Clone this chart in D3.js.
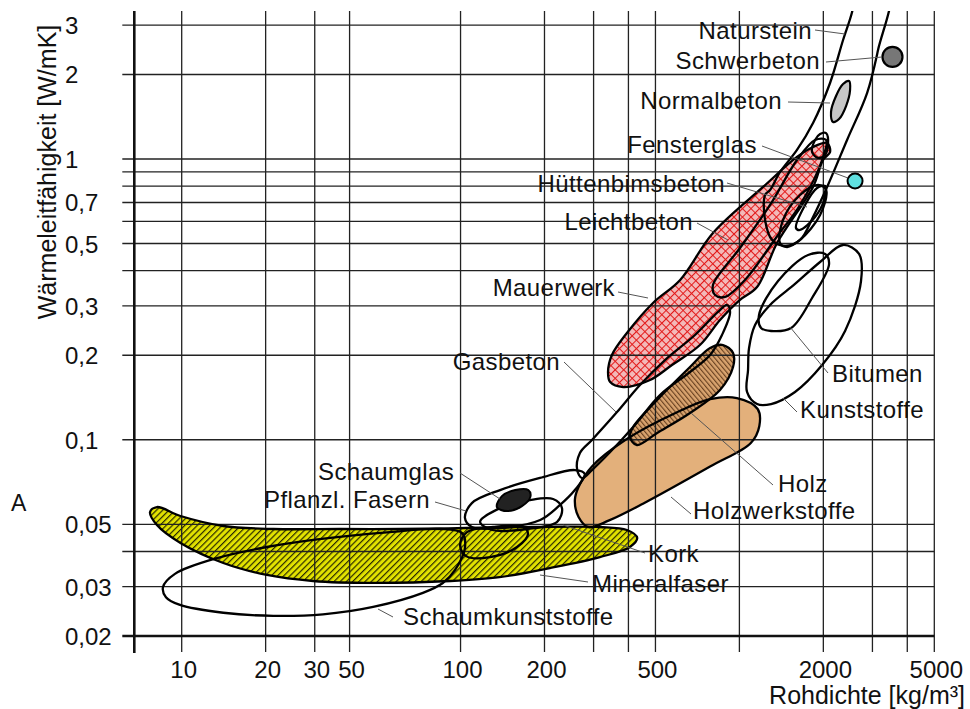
<!DOCTYPE html>
<html>
<head>
<meta charset="utf-8">
<script src="https://cdn.jsdelivr.net/npm/d3@7"></script>
<style>
body { margin: 0; background: #fff; }
text { font-family: "Liberation Sans", Arial, sans-serif; fill: #111; }
</style>
</head>
<body>
<div id="chart-area"></div>
<script>
// Rohdichte [kg/m3] vs. Wärmeleitfähigkeit [W/mK], outlines
var xGrid = [10, 20, 30, 40, 100, 200, 300, 400, 500, 1000, 2000, 3000, 4000, 5000];
var xLabelVals = [10, 20, 30, 40, 100, 200, 500, 2000, 5000];
var xLabelText = ["10", "20", "30", "50", "100", "200", "500", "2000", "5000"];
var yGrid = [0.03, 0.04, 0.05, 0.1, 0.2, 0.3, 0.4, 0.5, 0.6, 0.7, 0.8, 0.9, 1, 2, 3];
var yLabelVals = [0.02, 0.03, 0.05, 0.1, 0.2, 0.3, 0.5, 0.7, 1, 2, 3];
var yLabelText = ["0,02", "0,03", "0,05", "0,1", "0,2", "0,3", "0,5", "0,7", "1", "2", "3"];

// [density, lambda]
var mineralfaser = [[7.7,0.0553],[8.15,0.0576],[9.9,0.0535],[14.1,0.0493],[21.3,0.0481],[37,0.0481],[61,0.0481],[105,0.0485],[182,0.0489],[316,0.0489],[395,0.0477],[430,0.0447],[405,0.0415],[316,0.0382],[209,0.0349],[138,0.0324],[92,0.0314],[48.6,0.0309],[29.6,0.0314],[20.2,0.033],[14.1,0.0364],[9.9,0.0429],[8.15,0.0497]];
var schaumkunststoffe = [[8.57,0.0299],[9.46,0.0333],[13.4,0.0379],[20.2,0.0415],[29.6,0.044],[55.8,0.0469],[84.3,0.0481],[101.3,0.0465],[103.7,0.0412],[95.6,0.0344],[86.4,0.0309],[73.3,0.0285],[48.6,0.0254],[32.1,0.0239],[21.3,0.0236],[14.1,0.0242],[9.86,0.0258],[8.78,0.0275]];
var korkInnen = [[99.6,0.0422],[105.5,0.0469],[130.8,0.0489],[167.5,0.0489],[174.6,0.0462],[159.4,0.0415],[127.6,0.0382],[104.7,0.0385]];
var kork = [[117.5,0.051],[138.6,0.0571],[177.5,0.061],[214.7,0.0615],[231,0.0571],[222,0.051],[173,0.0481],[130,0.0477]];
var pflanzlFasern = [[103.7,0.0527],[109.8,0.0595],[138.6,0.0662],[192.7,0.0731],[257,0.078],[279,0.0755],[257,0.0662],[227,0.0585],[193,0.0518],[138.6,0.0485],[109.8,0.0489]];
var schaumglas = [[135,0.0576],[141,0.0631],[157,0.0662],[175,0.0662],[178,0.0626],[166,0.058],[147,0.0557]];
var gasbeton = [[262,0.078],[268,0.0897],[296,0.0998],[364,0.1255],[440,0.1566],[541,0.1923],[693,0.2361],[838,0.2852],[903,0.302],[926,0.285],[866,0.2361],[785,0.2004],[665,0.1743],[519,0.1443],[422,0.1129],[344,0.0904],[296,0.078],[273,0.073]];
var holzwerkstoffe = [[257,0.061],[265,0.0679],[296,0.0803],[392,0.1002],[595,0.1251],[785,0.1396],[980,0.1408],[1163,0.1287],[1179,0.112],[1099,0.0974],[785,0.0803],[451,0.0592],[341,0.0516],[288,0.0488],[265,0.0531]];
var holz = [[405,0.1023],[416,0.111],[507,0.1385],[665,0.1816],[785,0.2122],[874,0.2175],[949,0.2037],[949,0.1816],[852,0.1504],[665,0.1245],[507,0.1057],[429,0.0958]];
var mauerwerk = [[338,0.1743],[349,0.2004],[395,0.24],[490,0.307],[613,0.371],[804,0.545],[1216,0.795],[1609,1.017],[1837,1.104],[2063,1.141],[2114,1.059],[1996,0.992],[1837,0.795],[1365,0.502],[1157,0.35],[1005,0.315],[852,0.267],[722,0.2175],[573,0.1846],[478,0.1632],[383,0.1541],[344,0.1605]];
var kunststoffe = [[1157,0.134],[1065,0.148],[1074,0.1772],[1083,0.2122],[1138,0.2564],[1288,0.3021],[1583,0.3588],[1947,0.4297],[2354,0.494],[2686,0.4589],[2730,0.3677],[2393,0.244],[1980,0.1846],[1583,0.148],[1299,0.134]];
var bitumen = [[1196,0.2501],[1176,0.2782],[1376,0.3677],[1763,0.4551],[2029,0.4589],[2097,0.4227],[1822,0.3199],[1532,0.2501],[1299,0.244]];
var naturstein = [[2621,4.0],[2536,3.339],[2354,2.653],[2114,1.865],[1837,1.343],[1609,1.077],[1399,0.899],[1288,0.7755],[1236,0.7443],[1236,0.6064],[1310,0.5147],[1458,0.4901],[1650,0.5147],[1837,0.6215],[2063,0.7948],[2433,1.169],[2870,1.718],[3142,2.444],[3441,4.0]];
var leichtbeton = [[818,0.3278],[804,0.3558],[1005,0.482],[1288,0.6858],[1609,0.9918],[1868,1.169],[2046,1.169],[1980,0.9918],[1650,0.6858],[1376,0.5362],[1047,0.3707],[888,0.3225]];
var huettenbims = [[1596,0.568],[1720,0.6858],[1899,0.7884],[2029,0.8015],[2012,0.7145],[1868,0.6215],[1650,0.5587]];
var leichtInnen = [[1399,0.5022],[1434,0.6064],[1650,0.7443],[1915,0.808],[2046,0.7755],[1947,0.6317],[1650,0.5147],[1482,0.486]];
var fensterSchleife = [[1822,1.059],[1868,1.169],[1947,1.227],[2046,1.237],[2079,1.122],[2029,1.034],[1915,1.009]];
var normalbeton = [[2167,1.355],[2131,1.47],[2221,1.677],[2354,1.849],[2474,1.895],[2494,1.761],[2413,1.544],[2277,1.388]];
var schwerbeton = [3540, 2.31];
var fensterglas = [2599, 0.835];

var width = 970, height = 709;
var svg = d3.select("#chart-area").append("svg")
    .attr("width", width)
    .attr("height", height);

var x = d3.scaleLog().domain([10, 5000]).range([181.7, 934.3]);
var y = d3.scaleLog().domain([0.02, 1]).range([636, 159]);

var plotLeft = 134.3, plotRight = 934.3, plotTop = 11, plotBottom = 636;

var defs = svg.append("defs");
defs.append("clipPath").attr("id", "plot")
    .append("rect").attr("x", plotLeft).attr("y", plotTop)
    .attr("width", plotRight - plotLeft).attr("height", plotBottom - plotTop);

// patterns
var pYellow = defs.append("pattern").attr("id", "yellow")
    .attr("patternUnits", "userSpaceOnUse").attr("width", 4.4).attr("height", 10)
    .attr("patternTransform", "rotate(45)");
pYellow.append("rect").attr("width", 4.4).attr("height", 10).attr("fill", "#e2e200");
pYellow.append("line").attr("x1", 0.6).attr("x2", 0.6).attr("y1", 0).attr("y2", 10)
    .attr("stroke", "#2a2a00").attr("stroke-width", 1.2);

var pRed = defs.append("pattern").attr("id", "red")
    .attr("patternUnits", "userSpaceOnUse").attr("width", 6).attr("height", 6)
    .attr("patternTransform", "rotate(45)");
pRed.append("rect").attr("width", 6).attr("height", 6).attr("fill", "#f3b9b9");
pRed.append("path").attr("d", "M0,0.5H6M0.5,0V6")
    .attr("stroke", "#e31b1b").attr("stroke-width", 1.1);

var pHolz = defs.append("pattern").attr("id", "holz")
    .attr("patternUnits", "userSpaceOnUse").attr("width", 3.6).attr("height", 10)
    .attr("patternTransform", "rotate(-40)");
pHolz.append("rect").attr("width", 3.6).attr("height", 10).attr("fill", "#d9a36e");
pHolz.append("line").attr("x1", 0.6).attr("x2", 0.6).attr("y1", 0).attr("y2", 10)
    .attr("stroke", "#5b3517").attr("stroke-width", 1);

var blob = d3.line()
    .x(function (d) { return x(d[0]); })
    .y(function (d) { return y(d[1]); })
    .curve(d3.curveCatmullRomClosed.alpha(0.5));

var fillLayer = svg.append("g").attr("clip-path", "url(#plot)");
var gridLayer = svg.append("g");
var lineLayer = svg.append("g").attr("clip-path", "url(#plot)");
var solidLayer = svg.append("g").attr("clip-path", "url(#plot)");

var filled = [
    { d: mineralfaser, fill: "url(#yellow)" },
    { d: holzwerkstoffe, fill: "#e3b07b" },
    { d: holz, fill: "url(#holz)" },
    { d: mauerwerk, fill: "url(#red)" }
];
filled.forEach(function (s) {
    fillLayer.append("path").attr("d", blob(s.d)).attr("fill", s.fill);
});

// grid
xGrid.forEach(function (v) {
    gridLayer.append("line")
        .attr("x1", x(v)).attr("x2", x(v))
        .attr("y1", plotTop).attr("y2", plotBottom + 16)
        .attr("stroke", "#222").attr("stroke-width", 1.3);
});
yGrid.forEach(function (v) {
    gridLayer.append("line")
        .attr("x1", plotLeft - 12).attr("x2", plotRight)
        .attr("y1", y(v)).attr("y2", y(v))
        .attr("stroke", "#222").attr("stroke-width", 1.3);
});
// axes
gridLayer.append("line")
    .attr("x1", plotLeft).attr("x2", plotLeft).attr("y1", plotTop).attr("y2", plotBottom + 17)
    .attr("stroke", "#111").attr("stroke-width", 2.6);
gridLayer.append("line")
    .attr("x1", plotLeft - 12).attr("x2", plotRight).attr("y1", plotBottom).attr("y2", plotBottom)
    .attr("stroke", "#111").attr("stroke-width", 2.6);

var outlines = [schaumkunststoffe, korkInnen, kork, pflanzlFasern, gasbeton, kunststoffe, bitumen,
    naturstein, leichtbeton, huettenbims, leichtInnen, fensterSchleife,
    mineralfaser, holzwerkstoffe, holz, mauerwerk];
outlines.forEach(function (d) {
    lineLayer.append("path").attr("d", blob(d))
        .attr("fill", "none").attr("stroke", "#000").attr("stroke-width", 2.3);
});

solidLayer.append("path").attr("d", blob(schaumglas))
    .attr("fill", "#222").attr("stroke", "#000").attr("stroke-width", 2);
solidLayer.append("path").attr("d", blob(normalbeton))
    .attr("fill", "#c6c6c6").attr("stroke", "#000").attr("stroke-width", 2.2);
solidLayer.append("circle")
    .attr("cx", x(schwerbeton[0])).attr("cy", y(schwerbeton[1])).attr("r", 10)
    .attr("fill", "#777").attr("stroke", "#000").attr("stroke-width", 2.2);
solidLayer.append("circle")
    .attr("cx", x(fensterglas[0])).attr("cy", y(fensterglas[1])).attr("r", 7.5)
    .attr("fill", "#5fe0e0").attr("stroke", "#000").attr("stroke-width", 2);

// tick labels
xLabelVals.forEach(function (v, i) {
    svg.append("text")
        .attr("x", x(v) + 2).attr("y", 678)
        .attr("text-anchor", "middle")
        .attr("font-size", "24px")
        .text(xLabelText[i]);
});
yLabelVals.forEach(function (v, i) {
    svg.append("text")
        .attr("x", 65).attr("y", y(v) + 9)
        .attr("font-size", "24px")
        .text(yLabelText[i]);
});

svg.append("text")
    .attr("transform", "translate(56,172) rotate(-90)")
    .attr("text-anchor", "middle")
    .attr("font-size", "25px")
    .text("Wärmeleitfähigkeit [W/mK]");
svg.append("text")
    .attr("x", 965).attr("y", 704)
    .attr("text-anchor", "end")
    .attr("font-size", "25px")
    .text("Rohdichte [kg/m³]");
svg.append("text")
    .attr("x", 11).attr("y", 511)
    .attr("font-size", "23px")
    .text("A");

// labels with leader lines (pixel layout)
var notes = [
    { t: "Naturstein", x: 812, y: 39, a: "end", l: [815, 30, 845, 34] },
    { t: "Schwerbeton", x: 820, y: 69, a: "end", l: [826, 62, 882, 57] },
    { t: "Normalbeton", x: 782, y: 109, a: "end", l: [788, 102, 830, 103] },
    { t: "Fensterglas", x: 757, y: 153, a: "end", l: [762, 146, 848, 178] },
    { t: "Hüttenbimsbeton", x: 725, y: 192, a: "end", l: [727, 183, 807, 207] },
    { t: "Leichtbeton", x: 693, y: 230, a: "end", l: [697, 223, 728, 240] },
    { t: "Mauerwerk", x: 615, y: 296, a: "end", l: [618, 292, 648, 298] },
    { t: "Gasbeton", x: 560, y: 370, a: "end", l: [564, 362, 616, 412] },
    { t: "Bitumen", x: 832, y: 382, a: "start", l: [828, 373, 790, 327] },
    { t: "Kunststoffe", x: 800, y: 418, a: "start", l: [797, 412, 783, 398] },
    { t: "Holz", x: 778, y: 492, a: "start", l: [773, 485, 691, 413] },
    { t: "Holzwerkstoffe", x: 693, y: 519, a: "start", l: [691, 514, 671, 497] },
    { t: "Schaumglas", x: 318, y: 480, a: "start", l: [460, 473, 500, 499] },
    { t: "Pflanzl. Fasern", x: 264, y: 508, a: "start", l: [435, 502, 466, 511] },
    { t: "Kork", x: 648, y: 562, a: "start", l: [645, 553, 563, 525] },
    { t: "Mineralfaser", x: 592, y: 592, a: "start", l: [588, 582, 540, 575] },
    { t: "Schaumkunststoffe", x: 403, y: 625, a: "start", l: [393, 617, 378, 609] }
];
notes.forEach(function (n) {
    svg.append("line")
        .attr("x1", n.l[0]).attr("y1", n.l[1]).attr("x2", n.l[2]).attr("y2", n.l[3])
        .attr("stroke", "#555").attr("stroke-width", 1);
    svg.append("text")
        .attr("x", n.x).attr("y", n.y)
        .attr("text-anchor", n.a)
        .attr("font-size", "24px")
        .style("letter-spacing", "0.4px")
        .text(n.t);
});
</script>
</body>
</html>
